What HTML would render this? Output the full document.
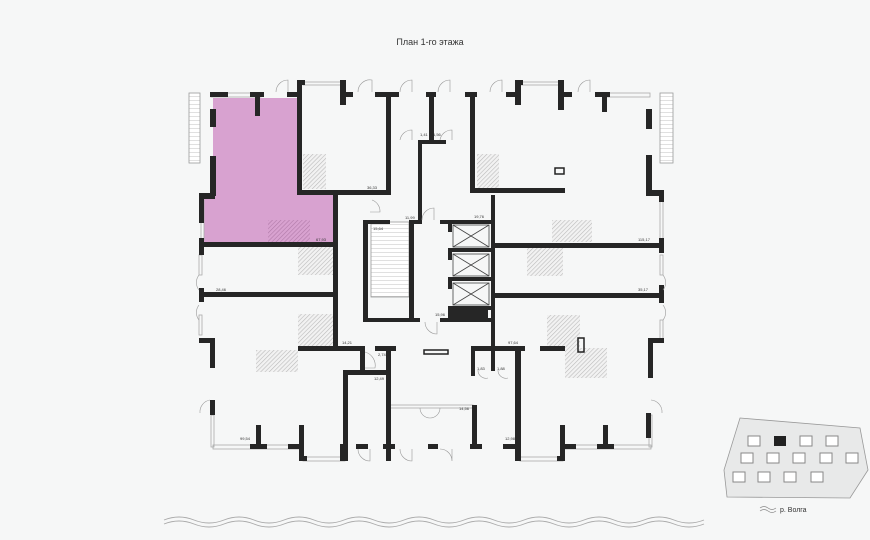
<!DOCTYPE html>
<html><head><meta charset="utf-8"><style>
html,body{margin:0;padding:0;background:#f6f7f7;}
svg{display:block}
text{font-family:"Liberation Sans","DejaVu Sans",sans-serif;fill:#333}
</style></head><body>
<svg width="870" height="540" viewBox="0 0 870 540" xmlns="http://www.w3.org/2000/svg">
<defs>
<pattern id="h" width="3" height="3" patternUnits="userSpaceOnUse" patternTransform="rotate(45)">
<rect width="3" height="3" fill="#f2f2f2"/><line x1="0" y1="0" x2="0" y2="3" stroke="#bbb" stroke-width="1.2"/></pattern>
<pattern id="hp" width="3" height="3" patternUnits="userSpaceOnUse" patternTransform="rotate(45)">
<line x1="0" y1="0" x2="0" y2="3" stroke="#b07aa8" stroke-width="1.2"/></pattern>
<pattern id="st" width="4" height="4" patternUnits="userSpaceOnUse"><rect width="4" height="4" fill="#fff"/><line x1="0" y1="0" x2="4" y2="0" stroke="#999" stroke-width="0.6"/></pattern>
</defs>
<rect width="870" height="540" fill="#f6f7f7"/>
<text x="430" y="45" font-size="9" text-anchor="middle" fill="#444">План 1-го этажа</text>

<!-- pink unit -->
<polygon points="213,98 299,98 299,193 335,193 335,244 204,244 204,196 213,196" fill="#d8a2d0"/>
<rect x="268" y="220" width="42" height="22" fill="url(#hp)"/>

<!-- hatches -->
<g fill="url(#h)">
<rect x="303" y="154" width="23" height="35"/>
<rect x="298" y="247" width="36" height="28"/>
<rect x="477" y="154" width="22" height="34"/>
<rect x="552" y="220" width="40" height="22"/>
<rect x="527" y="248" width="36" height="28"/>
<rect x="298" y="314" width="35" height="32"/>
<rect x="256" y="350" width="42" height="22"/>
<rect x="547" y="315" width="33" height="34"/>
<rect x="565" y="348" width="42" height="30"/>
</g>

<!-- balconies -->
<g fill="url(#st)" stroke="#999" stroke-width="0.8">
<rect x="189" y="93" width="11" height="70"/>
<rect x="660" y="93" width="13" height="70"/>
<rect x="371" y="222" width="38" height="75"/>
</g>
<!-- windows -->
<g fill="none" stroke="#aaa" stroke-width="0.8">
<rect x="211" y="93" width="50" height="4"/><rect x="303" y="82" width="40" height="3"/>
<rect x="517" y="82" width="44" height="3"/><rect x="605" y="93" width="45" height="4"/>
<rect x="201" y="200" width="3" height="40"/><rect x="199" y="255" width="3" height="20"/>
<rect x="199" y="315" width="3" height="20"/><rect x="660" y="200" width="3" height="40"/>
<rect x="660" y="255" width="3" height="20"/><rect x="660" y="320" width="3" height="20"/>
<rect x="211" y="415" width="3" height="32"/><rect x="649" y="415" width="3" height="32"/>
<rect x="213" y="445" width="90" height="4"/><rect x="303" y="457" width="42" height="4"/>
<rect x="520" y="457" width="43" height="4"/><rect x="563" y="445" width="88" height="4"/>
<rect x="388" y="405" width="85" height="3"/>
</g>

<!-- walls -->
<g fill="#262626">
<rect x="210" y="92" width="18" height="5"/><rect x="255" y="92" width="5" height="24"/><rect x="250" y="92" width="14" height="5"/>
<rect x="287" y="92" width="14" height="5"/><rect x="297" y="80" width="5" height="115"/><rect x="297" y="80" width="8" height="5"/>
<rect x="340" y="80" width="6" height="25"/><rect x="340" y="92" width="13" height="5"/>
<rect x="375" y="92" width="24" height="5"/><rect x="386" y="92" width="5" height="101"/>
<rect x="429" y="92" width="5" height="50"/><rect x="426" y="92" width="10" height="5"/>
<rect x="470" y="92" width="5" height="100"/><rect x="465" y="92" width="12" height="5"/>
<rect x="506" y="92" width="14" height="5"/><rect x="515" y="80" width="6" height="25"/><rect x="515" y="80" width="8" height="5"/>
<rect x="558" y="80" width="6" height="30"/><rect x="558" y="92" width="14" height="5"/>
<rect x="595" y="92" width="15" height="5"/><rect x="602" y="92" width="5" height="20"/>
<rect x="210" y="109" width="6" height="18"/><rect x="210" y="156" width="6" height="40"/>
<rect x="199" y="193" width="16" height="6"/><rect x="199" y="193" width="5" height="30"/><rect x="199" y="238" width="5" height="17"/>
<rect x="199" y="288" width="5" height="14"/>
<rect x="199" y="338" width="14" height="5"/><rect x="210" y="338" width="5" height="30"/>
<rect x="210" y="400" width="5" height="15"/>
<rect x="646" y="109" width="6" height="20"/><rect x="646" y="155" width="6" height="40"/>
<rect x="646" y="190" width="18" height="6"/><rect x="659" y="190" width="5" height="12"/>
<rect x="659" y="238" width="5" height="15"/><rect x="659" y="285" width="5" height="18"/>
<rect x="648" y="338" width="16" height="5"/><rect x="648" y="338" width="5" height="40"/>
<rect x="646" y="413" width="5" height="25"/>
<rect x="299" y="190" width="92" height="5"/><rect x="202" y="242" width="134" height="5"/>
<rect x="333" y="190" width="5" height="160"/>
<rect x="202" y="292" width="134" height="5"/>
<rect x="298" y="346" width="66" height="5"/><rect x="375" y="346" width="20" height="5"/>
<rect x="418" y="140" width="28" height="4"/><rect x="418" y="140" width="4" height="80"/>
<rect x="363" y="220" width="5" height="100"/><rect x="363" y="220" width="27" height="4"/>
<rect x="409" y="220" width="5" height="100"/><rect x="409" y="220" width="13" height="4"/>
<rect x="363" y="318" width="57" height="4"/>
<rect x="440" y="220" width="54" height="4"/><rect x="491" y="195" width="4" height="155"/>
<rect x="448" y="248" width="45" height="4"/><rect x="448" y="277" width="45" height="4"/>
<rect x="448" y="306" width="45" height="4"/><rect x="440" y="318" width="54" height="4"/>
<rect x="448" y="224" width="4" height="8"/><rect x="448" y="252" width="4" height="8"/><rect x="448" y="281" width="4" height="8"/>
<rect x="448" y="310" width="40" height="8"/>
<rect x="470" y="188" width="95" height="5"/>
<rect x="492" y="243" width="170" height="5"/><rect x="492" y="293" width="170" height="5"/>
<rect x="360" y="346" width="5" height="26"/><rect x="344" y="370" width="46" height="5"/>
<rect x="343" y="370" width="5" height="90"/><rect x="386" y="346" width="5" height="115"/>
<rect x="386" y="346" width="10" height="5"/>
<rect x="472" y="346" width="53" height="5"/><rect x="471" y="346" width="4" height="30"/>
<rect x="491" y="346" width="4" height="25"/><rect x="515" y="346" width="6" height="115"/>
<rect x="540" y="346" width="25" height="5"/>
<rect x="472" y="405" width="5" height="42"/>
<rect x="256" y="425" width="5" height="22"/><rect x="250" y="444" width="17" height="5"/>
<rect x="299" y="425" width="5" height="36"/><rect x="288" y="444" width="16" height="5"/>
<rect x="340" y="444" width="8" height="17"/><rect x="299" y="456" width="8" height="5"/>
<rect x="356" y="444" width="12" height="5"/><rect x="383" y="444" width="12" height="5"/>
<rect x="428" y="444" width="10" height="5"/><rect x="470" y="444" width="12" height="5"/>
<rect x="503" y="444" width="18" height="5"/><rect x="557" y="456" width="8" height="5"/>
<rect x="560" y="425" width="5" height="36"/><rect x="560" y="444" width="16" height="5"/>
<rect x="603" y="425" width="5" height="22"/><rect x="597" y="444" width="17" height="5"/>
</g>
<g stroke="#444" stroke-width="0.8" fill="none">
<rect x="453" y="225" width="36" height="22"/><line x1="453" y1="225" x2="489" y2="247"/><line x1="489" y1="225" x2="453" y2="247"/>
<rect x="453" y="254" width="36" height="22"/><line x1="453" y1="254" x2="489" y2="276"/><line x1="489" y1="254" x2="453" y2="276"/>
<rect x="453" y="283" width="36" height="22"/><line x1="453" y1="283" x2="489" y2="305"/><line x1="489" y1="283" x2="453" y2="305"/>
<rect x="424" y="350" width="24" height="4" stroke-width="1.5" stroke="#222"/>
<rect x="555" y="168" width="9" height="6" stroke-width="1.5" stroke="#222"/>
<rect x="578" y="338" width="6" height="14" stroke-width="1.5" stroke="#222"/>
</g>
<g fill="none" stroke="#999" stroke-width="0.6">
<path d="M276,92 A12,12 0 0 1 288,80 V92"/><path d="M358,92 A12,12 0 0 1 372,80 V92"/>
<path d="M400,92 A12,12 0 0 1 412,80 V92"/><path d="M438,92 A12,12 0 0 1 450,80 V92"/>
<path d="M490,92 A12,12 0 0 1 502,80 V92"/><path d="M578,92 A12,12 0 0 1 590,80 V92"/>
<path d="M400,140 A12,12 0 0 1 412,130 V140"/><path d="M440,140 A12,12 0 0 1 452,130 V140"/>
<path d="M372,200 A12,12 0 0 1 380,212 H370"/><path d="M422,220 A12,12 0 0 1 434,208 V220"/>
<path d="M199,275 A12,12 0 0 0 199,290"/><path d="M199,305 A12,12 0 0 0 199,320"/>
<path d="M663,275 A12,12 0 0 1 663,290"/><path d="M663,305 A12,12 0 0 1 663,320"/>
<path d="M210,400 A12,12 0 0 0 200,413"/><path d="M651,400 A12,12 0 0 1 662,413"/>
<path d="M425,322 A12,12 0 0 0 437,334 V322"/><path d="M365,352 A14,14 0 0 1 375,368 H365"/>
<path d="M358,449 A12,12 0 0 0 370,461 V449"/><path d="M400,449 A12,12 0 0 0 412,461 V449"/>
<path d="M440,449 A12,12 0 0 1 452,461 V449"/><path d="M420,408 A10,10 0 0 0 430,418 A10,10 0 0 0 440,408"/>
<path d="M478,370 A8,8 0 0 0 488,378"/><path d="M498,370 A8,8 0 0 0 508,378"/>
</g>
<g font-size="4">
<text x="367" y="189">36,33</text><text x="420" y="136">1,41</text><text x="433" y="136">1,56</text>
<text x="316" y="241">67,93</text><text x="405" y="219">11,99</text><text x="373" y="230">15,64</text>
<text x="474" y="218">19,76</text><text x="638" y="241">115,17</text><text x="216" y="291">28,46</text>
<text x="638" y="291">35,17</text><text x="435" y="316">15,96</text><text x="342" y="344">14,21</text>
<text x="378" y="356">2,74</text><text x="374" y="380">12,49</text><text x="508" y="344">97,64</text>
<text x="477" y="370">1,83</text><text x="497" y="370">1,88</text><text x="459" y="410">14,56</text>
<text x="505" y="440">12,98</text><text x="240" y="440">99,54</text>
</g>
<!-- waves -->
<g fill="none" stroke="#aaa" stroke-width="0.9">
<path d="M164,520 q15,-6 30,0 q15,6 30,0 q15,-6 30,0 q15,6 30,0 q15,-6 30,0 q15,6 30,0 q15,-6 30,0 q15,6 30,0 q15,-6 30,0 q15,6 30,0 q15,-6 30,0 q15,6 30,0 q15,-6 30,0 q15,6 30,0 q15,-6 30,0 q15,6 30,0 q15,-6 30,0 q15,6 30,0"/>
<path d="M164,524 q15,-6 30,0 q15,6 30,0 q15,-6 30,0 q15,6 30,0 q15,-6 30,0 q15,6 30,0 q15,-6 30,0 q15,6 30,0 q15,-6 30,0 q15,6 30,0 q15,-6 30,0 q15,6 30,0 q15,-6 30,0 q15,6 30,0 q15,-6 30,0 q15,6 30,0 q15,-6 30,0 q15,6 30,0"/>
</g>
<g>
<polygon points="740,418 860,428 868,470 850,498 727,497 724,470" fill="#e8e9e9" stroke="#999" stroke-width="0.8"/>
<g fill="#fff" stroke="#888" stroke-width="1">
<rect x="748" y="436" width="12" height="10"/><rect x="800" y="436" width="12" height="10"/><rect x="826" y="436" width="12" height="10"/>
<rect x="741" y="453" width="12" height="10"/><rect x="767" y="453" width="12" height="10"/><rect x="793" y="453" width="12" height="10"/><rect x="820" y="453" width="12" height="10"/><rect x="846" y="453" width="12" height="10"/>
<rect x="733" y="472" width="12" height="10"/><rect x="758" y="472" width="12" height="10"/><rect x="784" y="472" width="12" height="10"/><rect x="811" y="472" width="12" height="10"/>
</g>
<rect x="774" y="436" width="12" height="10" fill="#222"/>
<path d="M760,508 q4,-3 8,0 t8,0 M760,511 q4,-3 8,0 t8,0" fill="none" stroke="#888" stroke-width="0.7"/>
<text x="780" y="512" font-size="7" fill="#444">р. Волга</text>
</g>
</svg>
</body></html>
